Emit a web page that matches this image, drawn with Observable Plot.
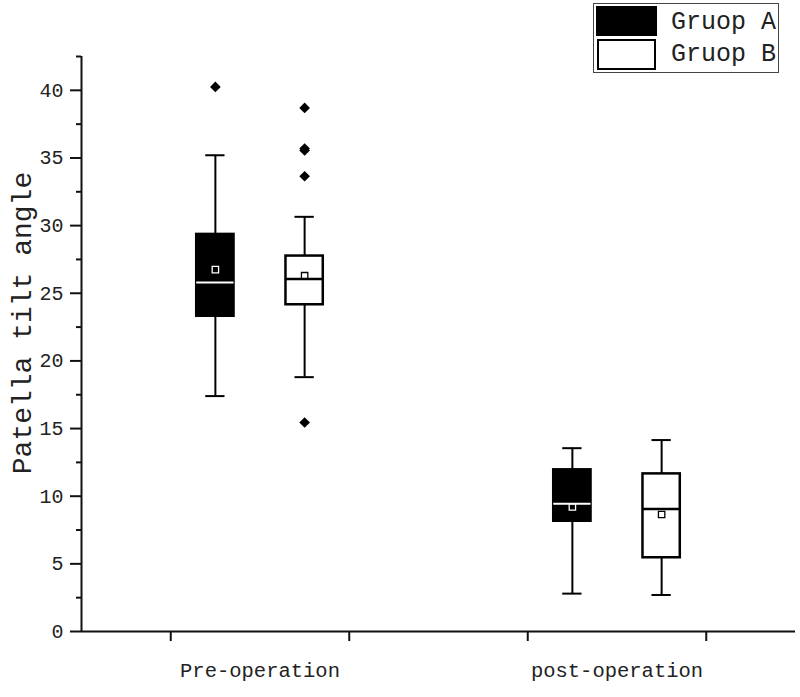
<!DOCTYPE html>
<html>
<head>
<meta charset="utf-8">
<script src="https://cdn.jsdelivr.net/npm/d3@7"></script>
<script src="https://cdn.jsdelivr.net/npm/@observablehq/plot@0.6"></script>
<style>
  html, body { margin: 0; padding: 0; background: #fff; }
  #wrap { position: relative; width: 800px; height: 697px; }
  #legend { position: absolute; left: 593px; top: 3px; width: 186px; height: 70px;
            border: 1.5px solid #444; box-sizing: border-box; background: #fff;
            font-family: "Liberation Mono", monospace; font-size: 25px; color: #222; }
  .sw { position: absolute; box-sizing: border-box; }
  .lt { position: absolute; left: 77px; line-height: 30px; white-space: pre; }
</style>
</head>
<body>
<div id="wrap"></div>
<script>
// ---- data ----
const categories = ["Pre-operation", "post-operation"];
const groups = ["Gruop A", "Gruop B"];
// order: Pre A, Pre B, Post A, Post B
const boxCategory = [0, 0, 1, 1];
const boxGroup = [0, 1, 0, 1];
const whiskerLow = [17.4, 18.8, 2.8, 2.7];
const q1 = [23.3, 24.15, 8.15, 5.45];
const median = [25.8, 26.05, 9.45, 9.05];
const q3 = [29.35, 27.75, 11.95, 11.65];
const whiskerHigh = [35.2, 30.65, 13.55, 14.15];
const mean = [26.75, 26.3, 9.2, 8.65];
const outliers = [[40.25], [38.7, 35.7, 35.55, 33.65, 15.45], [], []];
const yTicks = [0, 5, 10, 15, 20, 25, 30, 35, 40];

// ---- build table ----
const boxes = boxCategory.map((c, i) => ({
  pos: c * 2 + (boxGroup[i] === 0 ? 0.25 : 0.75),
  group: groups[boxGroup[i]],
  lo: whiskerLow[i], q1: q1[i], med: median[i], q3: q3[i], hi: whiskerHigh[i], mean: mean[i]
}));
const outlierPts = outliers.flatMap((arr, i) => arr.map(v => ({pos: boxes[i].pos, v})));
const bw = 0.1045, cw = 0.054;
const isA = d => d.group === groups[0];

const chart = Plot.plot({
  width: 800, height: 697,
  marginLeft: 81, marginRight: 5, marginTop: 56, marginBottom: 66,
  style: {fontFamily: "Liberation Mono, monospace", color: "#222", background: "#fff"},
  x: {domain: [-0.5, 3.5], axis: null},
  y: {domain: [0, 42.5], axis: null},
  marks: [
    // axes
    Plot.axisY({ticks: yTicks, tickSize: 11, tickPadding: 7, strokeWidth: 2, stroke: "#111", fontSize: 20, fill: "#222", label: null}),
    Plot.axisY({ticks: d3.range(2.5, 43, 5), tickSize: 5, strokeWidth: 2, stroke: "#111", tickFormat: () => "", label: null}),
    Plot.axisX({ticks: [0, 1, 2, 3], tickSize: 10, strokeWidth: 2, stroke: "#111", tickFormat: () => "", label: null}),
    Plot.ruleX([-0.5], {y1: 0, y2: 42.5, strokeWidth: 2, stroke: "#111"}),
    Plot.ruleY([0], {x1: -0.5, x2: 3.5, strokeWidth: 2, stroke: "#111"}),
    Plot.text(categories, {x: (d, i) => i * 2 + 0.5, frameAnchor: "bottom", lineAnchor: "middle", dy: 39, text: d => d, fontSize: 20.5, fill: "#222"}),
    Plot.text(["Patella tilt angle"], {frameAnchor: "left", textAnchor: "middle", lineAnchor: "middle", rotate: -90, dx: -59, dy: -21, text: d => d, fontSize: 28, fill: "#222"}),
    // whiskers
    Plot.ruleX(boxes, {x: "pos", y1: "lo", y2: "hi", strokeWidth: 2, stroke: "#000"}),
    Plot.ruleY(boxes, {y: "hi", x1: d => d.pos - cw, x2: d => d.pos + cw, strokeWidth: 2, stroke: "#000"}),
    Plot.ruleY(boxes, {y: "lo", x1: d => d.pos - cw, x2: d => d.pos + cw, strokeWidth: 2, stroke: "#000"}),
    // boxes
    Plot.rect(boxes, {x1: d => d.pos - bw, x2: d => d.pos + bw, y1: "q1", y2: "q3",
      fill: d => isA(d) ? "#000" : "#fff", stroke: "#000", strokeWidth: 2.5}),
    // median
    Plot.ruleY(boxes, {y: "med", x1: d => d.pos - bw, x2: d => d.pos + bw,
      stroke: d => isA(d) ? "#fff" : "#000", strokeWidth: d => isA(d) ? 2 : 2.5}),
    // mean
    Plot.dot(boxes, {x: "pos", y: "mean", symbol: "square", r: 3.6, fill: "none",
      stroke: d => isA(d) ? "#fff" : "#000", strokeWidth: 1.3}),
    // outliers
    Plot.dot(outlierPts, {x: "pos", y: "v", symbol: "diamond2", r: 4.8, fill: "#000", stroke: "none"})
  ]
});

const wrap = document.getElementById("wrap");
wrap.appendChild(chart);
const legend = document.createElement("div");
legend.id = "legend";
legend.innerHTML = `
  <div class="sw" style="left:2px;top:2px;width:61px;height:30px;background:#000;"></div>
  <div class="sw" style="left:3px;top:35px;width:59px;height:31px;background:#fff;border:2.5px solid #000;"></div>
  <div class="lt" style="top:4px;">${groups[0]}</div>
  <div class="lt" style="top:36px;">${groups[1]}</div>`;
wrap.appendChild(legend);
</script>
</body>
</html>
